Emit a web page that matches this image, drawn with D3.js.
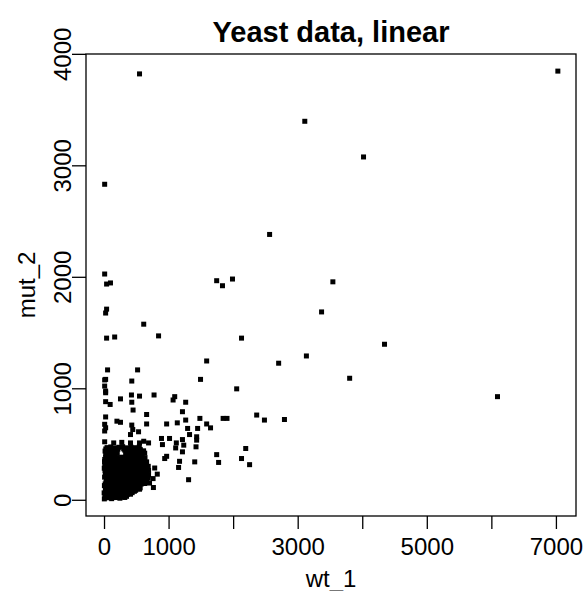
<!DOCTYPE html>
<html>
<head>
<meta charset="utf-8">
<script src="https://cdn.jsdelivr.net/npm/d3@7"></script>
<style>
  body { margin: 0; background: #fff; }
  text { font-family: "Liberation Sans", Arial, Helvetica, sans-serif; fill: #000; }
  .axis line { stroke: #000; stroke-width: 1.3; }
</style>
</head>
<body>
<div id="chart"></div>
<script>
const chartTitle = 'Yeast data, linear';
const xLabel = 'wt_1';
const yLabel = 'mut_2';

const xTicks = [0, 1000, 2000, 3000, 4000, 5000, 6000, 7000];
const xTickLabels = ['0', '1000', '', '3000', '', '5000', '', '7000'];
const yTicks = [0, 1000, 2000, 3000, 4000];
const yTickLabels = ['0', '1000', '2000', '3000', '4000'];

// isolated genes, [wt_1, mut_2]
const sparsePoints = [
  [7030, 3845], [550, 3820], [3110, 3395], [4020, 3075], [10, 2830], [2565, 2380],
  [10, 2025], [40, 1935], [100, 1945], [1745, 1965], [1835, 1920], [1990, 1980], [3545, 1955],
  [40, 1710], [25, 1675], [3370, 1685], [615, 1575], [40, 1450], [165, 1460], [845, 1470],
  [2130, 1450], [3135, 1290], [1590, 1245], [2705, 1225], [55, 1165], [520, 1165],
  [10, 1075], [25, 1080], [430, 1065], [1495, 1080], [3805, 1090], [4345, 1395], [6095, 925],
  [10, 1020], [2055, 995], [25, 975], [25, 960], [255, 905], [425, 940], [550, 930], [775, 940],
  [1095, 925], [1070, 895], [1265, 875], [25, 880], [95, 855], [430, 875], [450, 805], [660, 765],
  [1215, 790], [25, 743], [200, 705], [255, 695], [660, 680], [970, 680], [1135, 690], [1265, 715],
  [1485, 730], [1590, 680], [1650, 645], [1845, 730], [1905, 730], [2365, 760], [2485, 715],
  [2795, 720], [10, 677], [25, 646], [10, 617], [430, 670], [445, 630], [535, 610], [410, 585],
  [1295, 640], [1450, 640], [1325, 585], [1435, 565], [890, 550], [1015, 550], [1215, 540],
  [1435, 535], [2195, 460], [1745, 405], [2130, 370], [1775, 335], [2255, 315], [10, 520],
  [150, 510], [275, 515], [410, 510], [550, 510], [615, 525], [690, 510], [905, 495], [1120, 510],
  [1235, 490], [1110, 465], [1425, 475], [1215, 430], [970, 390], [940, 370], [1405, 340],
  [1170, 345], [1155, 290], [1310, 180], [785, 285], [825, 230], [760, 190], [685, 195],
  [705, 150], [765, 110], [550, 95], [490, 85]
];

// the crowded block of low-expression genes near the origin
const densePoints = [
  [5, 8], [58, 18], [118, 10], [186, 20], [246, 14], [298, 24],
  [30, 26], [95, 22], [160, 28], [222, 25], [270, 29], [322, 21],
  [14, 38], [82, 33], [139, 41], [207, 36], [276, 44], [349, 31],
  [28, 49], [96, 47], [150, 52], [221, 46], [291, 51], [360, 48], [410, 50],
  [2, 62], [51, 57], [112, 66], [168, 60], [238, 55], [309, 67], [377, 58], [436, 64],
  [25, 77], [83, 74], [140, 79], [205, 72], [274, 78], [344, 75], [410, 73], [470, 76],
  [21, 92], [69, 86], [131, 95], [198, 88], [262, 97], [328, 84], [402, 93], [468, 89], [519, 99],
  [40, 108], [101, 111], [160, 105], [228, 109], [293, 106], [365, 112], [436, 104], [500, 110], [560, 107],
  [6, 127], [61, 121], [116, 131], [182, 124], [243, 119], [301, 133], [362, 126], [429, 118], [488, 129], [547, 123],
  [18, 142], [83, 146], [139, 139], [205, 143], [271, 147], [332, 140], [398, 145], [458, 138], [516, 144], [575, 141], [630, 146],
  [31, 158], [88, 166], [151, 161], [214, 153], [272, 168], [338, 157], [401, 164], [461, 152], [528, 167], [589, 160], [648, 155],
  [38, 181], [98, 177], [162, 184], [228, 179], [288, 186], [350, 176], [414, 183], [476, 179], [538, 185], [600, 178], [662, 182],
  [9, 203], [66, 196], [124, 207], [191, 199], [249, 192], [312, 205], [373, 198], [441, 209], [498, 194], [562, 204], [621, 197], [676, 206],
  [20, 219], [84, 224], [140, 217], [205, 222], [268, 216], [330, 225], [395, 218], [455, 223], [520, 215], [582, 222], [645, 218], [690, 224],
  [36, 238], [94, 246], [157, 235], [219, 243], [286, 237], [351, 248], [408, 241], [472, 234], [536, 245], [601, 239], [662, 247],
  [15, 262], [78, 258], [138, 265], [200, 260], [262, 256], [325, 263], [388, 259], [452, 266], [515, 257], [576, 264], [640, 260], [690, 263],
  [4, 283], [59, 276], [121, 287], [179, 279], [241, 285], [306, 274], [368, 288], [431, 281], [496, 276], [553, 286], [617, 279], [671, 284],
  [12, 301], [75, 298], [135, 304], [198, 296], [258, 303], [322, 299], [385, 306], [450, 297], [510, 302], [572, 298], [632, 305], [685, 300],
  [29, 318], [91, 325], [148, 314], [216, 322], [274, 329], [336, 316], [399, 324], [466, 317], [524, 328], [588, 319], [644, 326],
  [8, 342], [52, 338], [112, 344], [171, 337], [234, 343], [295, 339], [358, 345], [421, 336], [483, 342], [545, 338], [608, 344], [660, 340],
  [11, 362], [71, 356], [134, 366], [189, 359], [252, 364], [314, 355], [381, 367], [443, 358], [502, 363], [566, 356], [626, 361],
  [24, 381], [88, 377], [148, 384], [208, 378], [278, 382], [330, 379], [395, 385], [458, 376], [520, 383], [578, 380], [635, 377],
  [41, 398], [99, 405], [162, 396], [347, 399], [409, 408], [471, 395], [529, 402], [591, 397],
  [26, 419], [86, 415], [148, 422], [205, 416], [335, 420], [396, 417], [458, 423], [520, 415], [575, 421], [630, 418],
  [16, 437], [74, 444], [136, 435], [188, 441], [321, 446], [379, 438], [442, 443], [504, 436], [558, 445], [613, 439],
  [28, 456], [90, 452], [152, 458], [215, 454], [305, 457], [372, 453], [432, 459], [495, 455], [560, 452],
  [47, 468], [104, 474], [166, 465], [231, 471], [289, 476], [356, 466], [418, 472], [481, 467], [546, 474]
];

const config = {
  width: 584,
  height: 591,
  margin: {top: 54, right: 8, bottom: 75, left: 86},
  pointSize: 5
};

const allPoints = sparsePoints.concat(densePoints);
const innerW = config.width - config.margin.left - config.margin.right;
const innerH = config.height - config.margin.top - config.margin.bottom;

// R-style 4% padding on both ends
const pad = ext => {
  const r = ext[1] - ext[0];
  return [ext[0] - 0.04 * r, ext[1] + 0.04 * r];
};

const xScale = d3.scaleLinear()
    .domain(pad(d3.extent(allPoints, d => d[0])))
    .range([0, innerW]);

const yScale = d3.scaleLinear()
    .domain(pad(d3.extent(allPoints, d => d[1])))
    .range([innerH, 0]);

const svg = d3.select('#chart').append('svg')
    .attr('width', config.width)
    .attr('height', config.height);

const chart = svg.append('g')
    .attr('transform', `translate(${config.margin.left},${config.margin.top})`);

chart.selectAll('.point')
    .data(allPoints)
    .join('rect')
    .attr('class', 'point')
    .attr('x', d => xScale(d[0]) - config.pointSize / 2)
    .attr('y', d => yScale(d[1]) - config.pointSize / 2)
    .attr('width', config.pointSize)
    .attr('height', config.pointSize)
    .attr('fill', '#000');

const xAxis = d3.axisBottom(xScale)
    .tickValues(xTicks)
    .tickFormat((d, i) => xTickLabels[i])
    .tickSize(13)
    .tickPadding(9);

const yAxis = d3.axisLeft(yScale)
    .tickValues(yTicks)
    .tickFormat((d, i) => yTickLabels[i])
    .tickSize(14);

const xAxisG = chart.append('g')
    .attr('class', 'axis')
    .attr('transform', `translate(0,${innerH})`)
    .call(xAxis);
xAxisG.select('.domain').remove();
xAxisG.selectAll('text')
    .attr('fill', '#000')
    .style('font-size', '24px')
    .style('font-family', '"Liberation Sans", Arial, sans-serif');

const yAxisG = chart.append('g')
    .attr('class', 'axis')
    .call(yAxis);
yAxisG.select('.domain').remove();
yAxisG.selectAll('text')
    .attr('x', 0)
    .attr('y', -15)
    .attr('dy', 0)
    .attr('transform', 'rotate(-90)')
    .attr('fill', '#000')
    .style('text-anchor', 'middle')
    .style('font-size', '24px')
    .style('font-family', '"Liberation Sans", Arial, sans-serif');

// plot frame
chart.append('rect')
    .attr('width', innerW)
    .attr('height', innerH)
    .attr('fill', 'none')
    .attr('stroke', '#000')
    .attr('stroke-width', 1.3);

svg.append('text')
    .attr('x', config.margin.left + innerW / 2)
    .attr('y', 42)
    .style('text-anchor', 'middle')
    .style('font-size', '29px')
    .style('font-weight', 'bold')
    .text(chartTitle);

svg.append('text')
    .attr('x', config.margin.left + innerW / 2)
    .attr('y', 587)
    .style('text-anchor', 'middle')
    .style('font-size', '24px')
    .text(xLabel);

svg.append('text')
    .attr('transform', `translate(35,${config.margin.top + innerH / 2}) rotate(-90)`)
    .style('text-anchor', 'middle')
    .style('font-size', '24px')
    .text(yLabel);
</script>
</body>
</html>
